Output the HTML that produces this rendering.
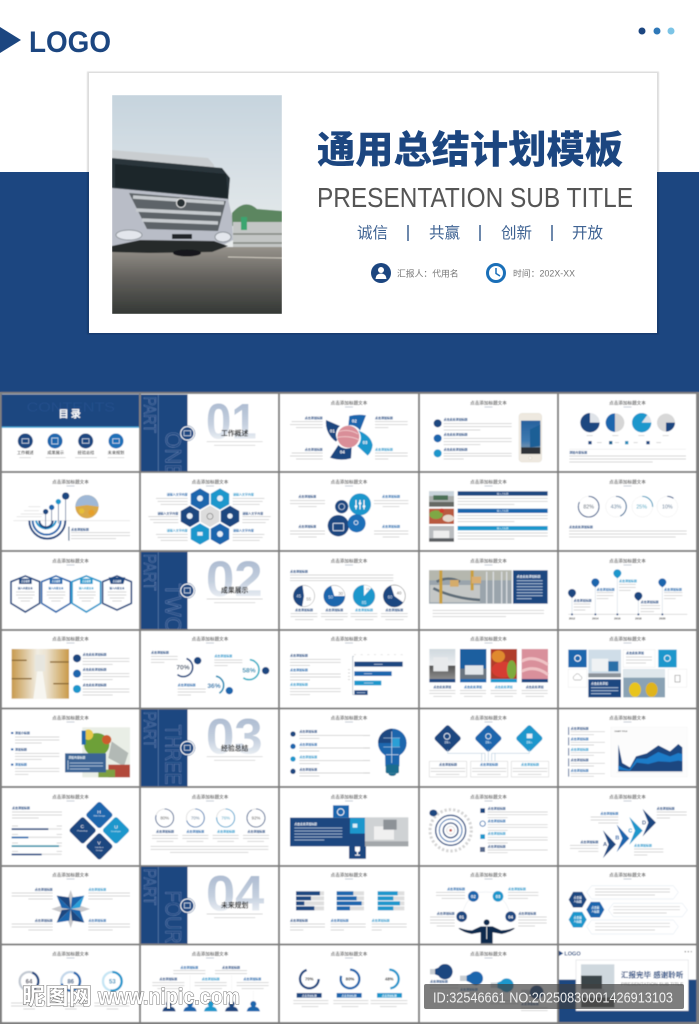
<!DOCTYPE html>
<html lang="zh"><head><meta charset="utf-8"><title>通用总结计划模板</title>
<style>
html,body{margin:0;padding:0;background:#808080}
svg{display:block}
text{font-family:"Liberation Sans","Noto Sans CJK SC",sans-serif}
.t{font-size:4.6px;fill:#4d4d4d;text-anchor:middle;font-weight:500}
.lb{font-size:9px;font-weight:700;fill:#1c4680}
.lc{font-size:9px;font-weight:700;fill:#1a66ad}
.ly{font-size:9px;font-weight:700;fill:#1f97cc}
.e{text-anchor:end}.m{text-anchor:middle}
.l{fill:none;stroke:#c9c9c9;stroke-width:2.2}
.w{fill:none;stroke:#b9cbe0;stroke-width:2.4}
.wt{font-size:9px;font-weight:700;fill:#fff;text-anchor:middle}
.o{fill:none;stroke:#7f9bc6;stroke-width:1;font-weight:400}
.n{font-weight:700;fill:url(#gh);font-size:150px}
.st{font-size:20.5px;font-weight:700;fill:#2e2e2e;text-anchor:middle}
.pc{font-weight:700;text-anchor:middle}
</style></head><body>
<svg width="699" height="1024" viewBox="0 0 699 1024" xmlns="http://www.w3.org/2000/svg">
<defs>
<linearGradient id="gh" x1="0" y1="0" x2="0" y2="1"><stop offset="0" stop-color="#a3b3cb"/><stop offset=".55" stop-color="#c5d0df"/><stop offset="1" stop-color="#ffffff"/></linearGradient>
<linearGradient id="sky" x1="0" y1="0" x2="0" y2="1"><stop offset="0" stop-color="#c6d4de"/><stop offset="1" stop-color="#e9ecec"/></linearGradient>
<linearGradient id="road" x1="0" y1="0" x2="0" y2="1"><stop offset="0" stop-color="#96928b"/><stop offset=".45" stop-color="#64625e"/><stop offset="1" stop-color="#343835"/></linearGradient>
<linearGradient id="wh" x1="0" y1="0" x2="1" y2="0"><stop offset="0" stop-color="#c79a4e"/><stop offset=".45" stop-color="#f1ede3"/><stop offset=".6" stop-color="#ece4d2"/><stop offset="1" stop-color="#c99a48"/></linearGradient>
<linearGradient id="gt" x1="0" y1="0" x2="0" y2="1"><stop offset="0" stop-color="#cfd8de"/><stop offset=".55" stop-color="#eceef0"/><stop offset=".56" stop-color="#555"/><stop offset="1" stop-color="#8d8d8d"/></linearGradient>
<linearGradient id="bs" x1="0" y1="0" x2="0" y2="1"><stop offset="0" stop-color="#27619e"/><stop offset=".6" stop-color="#3f7ab0"/><stop offset="1" stop-color="#9aa4ae"/></linearGradient>
<filter id="b" x="0" y="0" width="100%" height="100%"><feGaussianBlur stdDeviation=".4"/></filter>
<filter id="b2" x="-5%" y="-5%" width="110%" height="110%"><feGaussianBlur stdDeviation=".5"/></filter>
<polygon id="hx" points="0,-32 27.7,-16 27.7,16 0,32 -27.7,16 -27.7,-16"/>
<polygon id="hf" points="-27,0 -13.5,-23.5 13.5,-23.5 27,0 13.5,23.5 -13.5,23.5"/>
<rect id="dm" x="-30" y="-30" width="60" height="60" rx="8" transform="rotate(45)"/>
<clipPath id="ph"><rect x="112" y="95" width="170" height="219"/></clipPath>
</defs>

<!-- HERO -->
<rect width="699" height="392" fill="#fff"/>
<rect y="172" width="699" height="220" fill="#1c4680"/>
<polygon points="0,27 21,40 0,53" fill="#1c4680"/>
<text x="29" y="52" font-size="30" font-weight="700" fill="#1c4680" textLength="82" lengthAdjust="spacingAndGlyphs">LOGO</text>
<circle cx="642" cy="31" r="3.5" fill="#1c4680"/><circle cx="657" cy="31" r="3.5" fill="#2f78b8"/><circle cx="671" cy="31" r="3.5" fill="#7cc4e6"/>
<rect x="87" y="71.5" width="572" height="263" fill="#000" opacity=".13" filter="url(#b2)"/>
<rect x="89" y="73" width="568" height="260" fill="#fff"/>
<!-- photo -->
<g filter="url(#b2)" clip-path="url(#ph)">
<rect x="112" y="95" width="170" height="154" fill="url(#sky)"/>
<path d="M232 213Q245 198 257 209L282 211V226H232Z" fill="#5c8660"/>
<rect x="233" y="222" width="49" height="26" fill="#c3c6c5"/>
<rect x="241" y="217" width="6" height="13" fill="#3aa56f"/>
<path d="M233 234H282M233 243H282" stroke="#82867f" stroke-width="1.500"/>
<rect x="112" y="247" width="170" height="67" fill="url(#road)"/>
<path d="M228 257L282 258" stroke="#cfcac0" stroke-width="1"/>
<polygon points="112,150 208,158 214,165 214,168 112,160" fill="#c9cdd0"/>
<polygon points="112,158 222,168 230,178 228,202 112,190" fill="#2b353b"/>
<polygon points="115,164 226,174 228,198 115,187" fill="#1d262b"/>
<polygon points="112,188 228,199 232,216 233,240 214,250 112,250" fill="#b9bdc7"/>
<polygon points="129,193 226,201 218,231 147,229" fill="#5d6367"/>
<path d="M133 197L224 203M136 210L221 214M142 220L218 223" stroke="#c6cace" stroke-width="3.600"/>
<circle cx="181" cy="203" r="4.500" fill="#2b3135" stroke="#e8e8e8" stroke-width="1"/>
<ellipse cx="129" cy="235" rx="13" ry="5" fill="#e3e6ec" stroke="#8f959b"/>
<ellipse cx="223" cy="237" rx="8" ry="5" fill="#e3e6ec" stroke="#8f959b"/>
<rect x="172" y="234" width="20" height="5" fill="#22262a"/>
<polygon points="112,246 140,240 214,241 228,246 212,252 150,253 112,252" fill="#26292b"/>
<ellipse cx="187" cy="253" rx="14" ry="3.500" fill="#17191b"/>
</g>
<text x="317" y="163" font-size="38.2" font-weight="900" fill="#1c4680" textLength="306">通用总结计划模板</text>
<text x="317" y="207" font-size="28" fill="#555" textLength="316" lengthAdjust="spacingAndGlyphs">PRESENTATION SUB TITLE</text>
<g font-size="15.500" fill="#3f6393"><text x="357" y="238">诚信</text><text x="429" y="238">共赢</text><text x="501" y="238">创新</text><text x="572" y="238">开放</text></g>
<path d="M408 225V241M480 225V241M552 225V241" stroke="#2f5688" stroke-width="1.400"/>
<circle cx="381" cy="273" r="10" fill="#1c4680"/><circle cx="381" cy="270" r="3" fill="#fff"/><path d="M375.500 279Q376 273.500 381 273.500T386.500 279Z" fill="#fff"/>
<circle cx="496" cy="273" r="8.500" fill="#fff" stroke="#1a6fb8" stroke-width="3"/><path d="M496 268V273.500L500 276" stroke="#1a6fb8" stroke-width="1.500" fill="none"/>
<text x="397" y="276.500" font-size="8.800" fill="#777">汇报人：代用名</text>
<text x="513" y="276.500" font-size="8.800" fill="#777" textLength="62">时间：202X-XX</text>

<!-- GRID -->
<g filter="url(#b)">
<rect y="392" width="699" height="632" fill="#808080"/>
<rect y="390" width="699" height="2" fill="#1c4680"/>
<g fill="#fff">
<rect x="2" y="394" width="137" height="77"/><rect x="141" y="394" width="137" height="77"/><rect x="280" y="394" width="138" height="77"/><rect x="420" y="394" width="137" height="77"/><rect x="559" y="394" width="137" height="77"/>
<rect x="2" y="473" width="137" height="77"/><rect x="141" y="473" width="137" height="77"/><rect x="280" y="473" width="138" height="77"/><rect x="420" y="473" width="137" height="77"/><rect x="559" y="473" width="137" height="77"/>
<rect x="2" y="552" width="137" height="77"/><rect x="141" y="552" width="137" height="77"/><rect x="280" y="552" width="138" height="77"/><rect x="420" y="552" width="137" height="77"/><rect x="559" y="552" width="137" height="77"/>
<rect x="2" y="631" width="137" height="76.500"/><rect x="141" y="631" width="137" height="76.500"/><rect x="280" y="631" width="138" height="76.500"/><rect x="420" y="631" width="137" height="76.500"/><rect x="559" y="631" width="137" height="76.500"/>
<rect x="2" y="709.500" width="137" height="76.500"/><rect x="141" y="709.500" width="137" height="76.500"/><rect x="280" y="709.500" width="138" height="76.500"/><rect x="420" y="709.500" width="137" height="76.500"/><rect x="559" y="709.500" width="137" height="76.500"/>
<rect x="2" y="788" width="137" height="77"/><rect x="141" y="788" width="137" height="77"/><rect x="280" y="788" width="138" height="77"/><rect x="420" y="788" width="137" height="77"/><rect x="559" y="788" width="137" height="77"/>
<rect x="2" y="867" width="137" height="76.500"/><rect x="141" y="867" width="137" height="76.500"/><rect x="280" y="867" width="138" height="76.500"/><rect x="420" y="867" width="137" height="76.500"/><rect x="559" y="867" width="137" height="76.500"/>
<rect x="2" y="945.500" width="137" height="76.500"/><rect x="141" y="945.500" width="137" height="76.500"/><rect x="280" y="945.500" width="138" height="76.500"/><rect x="420" y="945.500" width="137" height="76.500"/><rect x="559" y="945.500" width="137" height="76.500"/>
</g>
<!-- titles -->
<g class="tt">
<text class="t" x="349" y="404.500">点击添加标题文本</text><text class="t" x="488.500" y="404.500">点击添加标题文本</text><text class="t" x="627.500" y="404.500">点击添加标题文本</text>
<text class="t" x="70.500" y="483.500">点击添加标题文本</text><text class="t" x="210" y="483.500">点击添加标题文本</text><text class="t" x="349" y="483.500">点击添加标题文本</text><text class="t" x="488.500" y="483.500">点击添加标题文本</text><text class="t" x="627.500" y="483.500">点击添加标题文本</text>
<text class="t" x="70.500" y="562.500">点击添加标题文本</text><text class="t" x="349" y="562.500">点击添加标题文本</text><text class="t" x="488.500" y="562.500">点击添加标题文本</text><text class="t" x="627.500" y="562.500">点击添加标题文本</text>
<text class="t" x="70.500" y="640.500">点击添加标题文本</text><text class="t" x="210" y="640.500">点击添加标题文本</text><text class="t" x="349" y="640.500">点击添加标题文本</text><text class="t" x="488.500" y="640.500">点击添加标题文本</text><text class="t" x="627.500" y="640.500">点击添加标题文本</text>
<text class="t" x="70.500" y="719.500">点击添加标题文本</text><text class="t" x="349" y="719.500">点击添加标题文本</text><text class="t" x="488.500" y="719.500">点击添加标题文本</text><text class="t" x="627.500" y="719.500">点击添加标题文本</text>
<text class="t" x="70.500" y="798.500">点击添加标题文本</text><text class="t" x="210" y="798.500">点击添加标题文本</text><text class="t" x="349" y="798.500">点击添加标题文本</text><text class="t" x="488.500" y="798.500">点击添加标题文本</text><text class="t" x="627.500" y="798.500">点击添加标题文本</text>
<text class="t" x="70.500" y="876.500">点击添加标题文本</text><text class="t" x="349" y="876.500">点击添加标题文本</text><text class="t" x="488.500" y="876.500">点击添加标题文本</text><text class="t" x="627.500" y="876.500">点击添加标题文本</text>
<text class="t" x="70.500" y="955.500">点击添加标题文本</text><text class="t" x="210" y="955.500">点击添加标题文本</text><text class="t" x="349" y="955.500">点击添加标题文本</text><text class="t" x="488.500" y="955.500">点击添加标题文本</text>
</g>
<path d="M345 407h8M484.500 407h8M623.500 407h8M66.500 486h8M206 486h8M345 486h8M484.500 486h8M623.500 486h8M66.500 565h8M345 565h8M484.500 565h8M623.500 565h8M66.500 643h8M206 643h8M345 643h8M484.500 643h8M623.500 643h8M66.500 722h8M345 722h8M484.500 722h8M623.500 722h8M66.500 801h8M206 801h8M345 801h8M484.500 801h8M623.500 801h8M66.500 879h8M345 879h8M484.500 879h8M623.500 879h8M66.500 958h8M206 958h8M345 958h8M484.500 958h8" stroke="#8b97ad" stroke-width=".6"/>

<!-- UPPER LEFT: rows 1-3, columns 1-3 left -->
<g transform="translate(0,390) scale(.33333)">
<!-- contents -->
<rect x="5" y="13" width="412" height="97" fill="#1c4680"/><rect x="5" y="110" width="412" height="3.500" fill="#2a9fd6"/>
<svg x="5" y="13" width="412" height="97"><text x="75" y="52" font-size="40" fill="#234f8b" textLength="265" lengthAdjust="spacingAndGlyphs">CONTENTS</text></svg>
<text x="212" y="82" font-size="31" font-weight="700" fill="#fff" text-anchor="middle" letter-spacing="6">目录</text>
<circle cx="76" cy="153" r="22.500" fill="#1c4680"/><circle cx="165" cy="153" r="22.500" fill="#1a66ad"/><circle cx="257" cy="153" r="22.500" fill="#1c4680"/><circle cx="348" cy="153" r="22.500" fill="#1a6fb8"/>
<path d="M66 146h20v14h-20zM155 144h19v18h-19zM247 146h20v14h-20zM338 146h20v14h-20z" fill="none" stroke="#dbe6f2" stroke-width="2"/>
<g font-size="12.500" fill="#444" text-anchor="middle" font-weight="500"><text x="76" y="192">工作概述</text><text x="167" y="192">成果展示</text><text x="258" y="192">经验总结</text><text x="348" y="192">未来规划</text></g>
<path class="l" d="M58 203h35M137 203h60M225 203h66M323 203h50" style="stroke-width:1.800"/>

<!-- part one -->
<svg x="423" y="13" width="140" height="231"><rect width="140" height="231" fill="#1c4680"/><path d="M52 0V231" stroke="#6d8dbb" stroke-width="1.500"/><text class="o" transform="translate(9,6) rotate(90)" font-size="53" textLength="110" lengthAdjust="spacingAndGlyphs">PART</text><text class="o" transform="translate(74,112) rotate(90)" font-size="66" textLength="140" lengthAdjust="spacingAndGlyphs">ONE</text></svg>
<circle cx="562" cy="130" r="20" fill="#1c4680" stroke="#fff" stroke-width="3"/><circle cx="562" cy="130" r="23" fill="none" stroke="#1c4680" stroke-width="1.500"/><path d="M552 122h20v15h-20z" fill="none" stroke="#dbe6f2" stroke-width="2"/>
<text class="n" x="618" y="145" textLength="152" lengthAdjust="spacingAndGlyphs">01</text>
<text class="st" x="704" y="137">工作概述</text>
<path class="l" d="M620 155h168M642 166h124" style="stroke-width:2"/>

<!-- r1c3 left text -->
<text class="lb e" x="968" y="87">点击添加标题</text>
<path class="l" d="M875 95h93M870 104h98M888 113h80"/>
<text class="lb e" x="968" y="181">点击添加标题</text>
<path class="l" d="M875 189h93M870 198h98M888 207h80"/>

<!-- r2c1 -->
<path d="M40 392H390" stroke="#ddd" stroke-width="2"/>
<path d="M50 380h75M62 372l70 0M72 362l45 0M85 350h36" stroke="#ccc" stroke-width="1.400" fill="none"/>
<g fill="none" stroke-width="6"><path d="M88 392A54 54 0 0 0 196 392" stroke="#1c4680"/><path d="M98 392A42 42 0 0 0 182 392" stroke="#1a66ad"/><path d="M108 392A31 31 0 0 0 168 392" stroke="#1f97cc"/><path d="M118 392A20 20 0 0 0 158 392" stroke="#1c4680"/></g>
<path d="M137 365V418M155 352V410M175 335V400M197 318V392" stroke="#1c4680" stroke-width="2"/>
<circle cx="137" cy="365" r="8" fill="#1c4680"/><circle cx="155" cy="352" r="8" fill="#1a66ad"/><circle cx="175" cy="335" r="8" fill="#1f97cc"/><circle cx="197" cy="318" r="11" fill="#1c4680"/>
<circle cx="261" cy="350" r="35" fill="#d9a94a"/><path d="M226 350A35 35 0 0 1 296 350L261 345Z" fill="#9fb8d6"/><circle cx="245" cy="363" r="8" fill="#e7bf37"/><circle cx="274" cy="368" r="9" fill="#e6a02b"/>
<rect x="205" y="410" width="3.500" height="42" fill="#55708f"/>
<text class="lb" x="213" y="421">点击添加标题</text>
<path class="l" d="M213 428h177M213 437h177M213 446h135"/>

<!-- r2c2 hex -->
<g><use href="#hx" x="600" y="327" fill="#1a66ad"/><use href="#hx" x="660" y="327" fill="#1f97cc"/><use href="#hx" x="570" y="379" fill="#1c4680"/><use href="#hx" x="630" y="379" fill="#dcdcdc"/><use href="#hx" x="690" y="379" fill="#1c4680"/><use href="#hx" x="600" y="432" fill="#1f97cc"/><use href="#hx" x="660" y="432" fill="#1a66ad"/></g>
<g fill="#e8f0f8"><circle cx="600" cy="325" r="9"/><circle cx="660" cy="325" r="9"/><circle cx="569" cy="378" r="9"/><circle cx="690" cy="378" r="8"/><rect x="592" y="426" width="16" height="11"/><circle cx="660" cy="432" r="9"/></g>
<circle cx="630" cy="379" r="9" fill="none" stroke="#777" stroke-width="2"/>
<text class="lc e" x="563" y="317">请输入文字内容</text><text class="ly" x="699" y="317">请输入文字内容</text>
<text class="lb e" x="535" y="373">请输入文字内容</text><text class="lb" x="727" y="373">请输入文字内容</text>
<text class="ly e" x="563" y="425">请输入文字内容</text><text class="lc" x="699" y="425">请输入文字内容</text>
<path class="l" d="M468 325h95M473 334h90M482 343h81M698 325h95M698 334h90M698 343h81M445 380h90M450 389h85M460 398h75M727 380h85M727 389h80M727 398h70M468 433h95M473 442h90M482 451h81M698 433h95M698 442h90M698 451h81"/>

<!-- r2c3 left -->
<text class="lb m" x="922" y="322">点击添加标题</text>
<path class="l" d="M870 332h105M870 341h105M895 350h55M870 423h105M870 432h105M895 441h55"/>
<text class="lb m" x="922" y="413">点击添加标题</text>

<!-- r3c1 shields -->
<g fill="#fff" stroke-width="5" stroke-linejoin="round"><polygon points="33,575 76,558 119,575 119,640 76,666 33,640" stroke="#1c4680"/><polygon points="125,575 168,558 211,575 211,640 168,666 125,640" stroke="#1a66ad"/><polygon points="216,575 259,558 302,575 302,640 259,666 216,640" stroke="#1f97cc"/><polygon points="308,575 351,558 394,575 394,640 351,660 308,640" stroke="#1c4680"/></g>
<g><rect x="57" y="566" width="38" height="16" fill="#1c4680"/><rect x="149" y="566" width="38" height="16" fill="#1a66ad"/><rect x="240" y="566" width="38" height="16" fill="#1f97cc"/><polygon points="326,562 376,562 370,582 332,582" fill="#1c4680"/></g>
<g font-size="6.500" fill="#fff" text-anchor="middle" font-weight="700"><text x="76" y="576">点击编辑</text><text x="168" y="576">点击编辑</text><text x="259" y="576">点击编辑</text><text x="351" y="576">点击编辑</text></g>
<g font-size="7.500" text-anchor="middle" font-weight="700"><text x="76" y="597" fill="#1c4680">输入内容文本</text><text x="168" y="597" fill="#1a66ad">输入内容文本</text><text x="259" y="597" fill="#1f97cc">输入内容文本</text><text x="351" y="597" fill="#1c4680">输入内容文本</text></g>
<path class="l" d="M48 606h56M48 615h56M54 624h44M62 633h28M140 606h56M140 615h56M146 624h44M154 633h28M231 606h56M231 615h56M237 624h44M245 633h28M323 606h56M323 615h56M329 624h44M337 633h28" style="stroke-width:2"/>

<!-- part two -->
<svg x="423" y="486" width="140" height="231"><rect width="140" height="231" fill="#1c4680"/><path d="M52 0V231" stroke="#6d8dbb" stroke-width="1.500"/><text class="o" transform="translate(9,6) rotate(90)" font-size="53" textLength="110" lengthAdjust="spacingAndGlyphs">PART</text><text class="o" transform="translate(74,94) rotate(90)" font-size="66" textLength="150" lengthAdjust="spacingAndGlyphs">TWO</text></svg>
<circle cx="562" cy="602" r="20" fill="#1c4680" stroke="#fff" stroke-width="3"/><circle cx="562" cy="602" r="23" fill="none" stroke="#1c4680" stroke-width="1.500"/><path d="M553 594h18v15h-18z" fill="none" stroke="#dbe6f2" stroke-width="2"/>
<text class="n" x="618" y="618" textLength="170" lengthAdjust="spacingAndGlyphs">02</text>
<text class="st" x="704" y="608">成果展示</text>
<path class="l" d="M620 627h168M642 638h124" style="stroke-width:2"/>

<!-- r3c3 left -->
<text class="lb" x="870" y="547">点击添加标题</text>
<path class="l" d="M870 555h310M870 564h310M870 572h310"/>
<circle cx="912" cy="618" r="32" fill="#fff" stroke="#999" stroke-width="1.500"/>
<circle cx="912" cy="618" r="16" fill="none" stroke="#1c4680" stroke-width="32" pathLength="100" stroke-dasharray="45 100" transform="rotate(100 912 618)"/>
<text x="896" y="622" font-size="13" fill="#dfe8f4" text-anchor="middle">45</text><text x="926" y="632" font-size="13" fill="#888" text-anchor="middle">55</text>
<circle cx="1003" cy="618" r="32" fill="#fff" stroke="#999" stroke-width="1.500"/>
<circle cx="1003" cy="618" r="16" fill="none" stroke="#1a66ad" stroke-width="32" pathLength="100" stroke-dasharray="70 100"/>
<text x="1022" y="615" font-size="13" fill="#777" text-anchor="middle">30</text><text x="992" y="626" font-size="13" fill="#dfe8f4" text-anchor="middle">50</text>
<text class="lb m" x="912" y="663">点击添加标题</text><text class="lb m" x="1003" y="663">点击添加标题</text>
<path class="l" d="M872 671h80M872 680h80M885 689h55M963 671h80M963 680h80M975 689h55"/>
</g>

<!-- UPPER RIGHT -->
<g transform="translate(350,390) scale(.33333)">
<!-- r1c3 fan -->
<path d="M-72 90L-30 108A34 34 0 0 0 -38 150L-42 155A70 70 0 0 1 -72 90Z" fill="#1c4680"/>
<path d="M-60 203L-35 165A34 34 0 0 0 5 172L3 205Q-30 214 -60 203Z" fill="#1c4680"/>
<path d="M-5 106L-2 78Q25 72 48 76L30 122A34 34 0 0 0 -5 106Z" fill="#1a66ad"/>
<path d="M25 122Q62 135 68 165Q66 185 53 197L22 168A34 34 0 0 0 25 122Z" fill="#1f97cc"/>
<circle cx="-5" cy="140" r="33" fill="#d98e98"/>
<path d="M-34 125Q-5 115 24 132M-38 142Q0 135 28 150" stroke="#f0c6c8" stroke-width="3" fill="none"/>
<g font-size="13" font-weight="700" fill="#fff" text-anchor="middle"><text x="-53" y="127">01</text><text x="13" y="98">02</text><text x="45" y="162">03</text><text x="-23" y="191">04</text></g>
<text class="lb" x="75" y="87">点击添加标题</text><path class="l" d="M75 95h98M75 104h98M75 113h40"/>
<text class="ly" x="75" y="181">点击添加标题</text><path class="l" d="M75 189h98M75 198h98M75 207h40"/>

<!-- r1c4 -->
<circle cx="263" cy="100" r="12" fill="#1c4680"/><circle cx="263" cy="145" r="12" fill="#1a66ad"/><circle cx="263" cy="190" r="12" fill="#1f97cc"/>
<text class="lb" x="281" y="92">点击此处添加标题</text><text class="lb" x="281" y="136">点击此处添加标题</text><text class="lb" x="281" y="181">点击此处添加标题</text>
<path class="l" d="M281 101h204M281 110h204M281 120h110M281 145h204M281 155h204M281 164h110M281 190h204M281 198h204M281 207h60"/>
<rect x="507" y="70" width="68" height="146" rx="9" fill="#eee9e0" stroke="#d9d2c4"/>
<rect x="513" y="92" width="58" height="100" fill="url(#bs)"/><rect x="513" y="172" width="58" height="20" fill="#2f3338"/>
<polygon points="540,118 571,104 571,168 540,172" fill="#1f5f96"/>
<circle cx="541" cy="204" r="5" fill="#f7f4ee" stroke="#c8c0b0"/>

<!-- r1c5 pies -->
<g>
<circle cx="720" cy="98" r="29" fill="#dfe3e8"/><circle cx="720" cy="98" r="14.500" fill="none" stroke="#1c4680" stroke-width="29" pathLength="100" stroke-dasharray="75 100"/>
<circle cx="795" cy="98" r="28" fill="#d6d6d6"/><circle cx="795" cy="98" r="14" fill="none" stroke="#1a66ad" stroke-width="28" pathLength="100" stroke-dasharray="50 100" transform="rotate(90 795 98)"/>
<circle cx="875" cy="98" r="29" fill="#dfe3e8"/><circle cx="875" cy="98" r="14.500" fill="none" stroke="#1f97cc" stroke-width="29" pathLength="100" stroke-dasharray="85 100"/>
<circle cx="948" cy="98" r="27" fill="#d8d8d8"/><circle cx="948" cy="98" r="13.500" fill="none" stroke="#1c4680" stroke-width="27" pathLength="100" stroke-dasharray="25 100"/>
</g>
<path class="l" d="M710 137h18M787 137h18M865 137h18M938 137h18"/>
<path d="M715 153h10v10h-10z" fill="#1c4680"/><path d="M777 153h10v10h-10z" fill="#1c6492"/><path d="M825 153h10v10h-10z" fill="#2a8fbc"/><path d="M889 153h10v10h-10z" fill="#1c4680"/>
<path class="l" d="M741 158h14M795 158h12M851 158h12M919 158h14"/>
<path d="M658 178H1008" stroke="#e5e5e5" stroke-width="1.500"/>
<text class="lb" x="658" y="190">添加内容标题</text>
<path class="l" d="M658 198h350M658 207h350M658 216h250"/>

<!-- r2c3 right -->
<circle cx="-25" cy="350" r="20" fill="#1c4680"/><circle cx="-25" cy="350" r="9" fill="none" stroke="#cfdcec" stroke-width="2"/>
<circle cx="30" cy="343" r="33" fill="#1f97cc"/><circle cx="-35" cy="407" r="32" fill="#1c4680"/><rect x="-51" y="400" width="32" height="22" rx="2" fill="none" stroke="#e6eef7" stroke-width="2.500"/>
<circle cx="20" cy="400" r="27" fill="#1a6fb8"/>
<path d="M18 330V358M30 330V358M42 330V358" stroke="#fff" stroke-width="3"/><circle cx="18" cy="349" r="4" fill="#fff"/><circle cx="30" cy="340" r="4" fill="#fff"/><circle cx="42" cy="349" r="4" fill="#fff"/>
<circle cx="18" cy="398" r="6" fill="none" stroke="#dceaf7" stroke-width="2.500"/>
<text class="lc m" x="123" y="322">点击添加标题</text><text class="lc m" x="123" y="413">点击添加标题</text>
<path class="l" d="M72 332h103M72 341h103M98 350h50M72 423h103M72 432h103M98 441h50"/>

<!-- r2c4 -->
<rect x="237" y="304" width="75" height="46" fill="#a9adac"/><rect x="237" y="304" width="75" height="14" fill="#c9d4dc"/><rect x="237" y="336" width="75" height="14" fill="#656864"/><rect x="250" y="316" width="44" height="14" fill="#4b7056"/>
<rect x="237" y="356" width="75" height="46" fill="#b95a3f"/><ellipse cx="258" cy="374" rx="20" ry="13" fill="#7ea845"/><ellipse cx="295" cy="385" rx="17" ry="11" fill="#e4d8cc"/><circle cx="275" cy="362" r="7" fill="#cf3d2d"/>
<rect x="237" y="408" width="75" height="47" fill="#b9bcbf"/><rect x="250" y="422" width="48" height="22" fill="#eeeeee"/><rect x="237" y="445" width="75" height="10" fill="#5c5f62"/>
<rect x="323" y="304" width="270" height="13" fill="#1c4680"/><rect x="323" y="356" width="270" height="13" fill="#1a66ad"/><rect x="323" y="408" width="270" height="13" fill="#1f97cc"/>
<g font-size="7" fill="#fff" text-anchor="middle"><text x="458" y="313">输入大标题</text><text x="458" y="365">输入大标题</text><text x="458" y="417">输入大标题</text></g>
<path class="l" d="M323 325h270M323 334h270M323 343h170M323 377h270M323 386h270M323 395h170M323 429h270M323 438h270M323 447h170"/>

<!-- r2c5 rings -->
<g fill="none"><circle cx="716" cy="350" r="31" stroke="#ececec" stroke-width="1.500"/><circle cx="798" cy="350" r="31" stroke="#ececec" stroke-width="1.500"/><circle cx="877" cy="350" r="31" stroke="#ececec" stroke-width="1.500"/><circle cx="952" cy="350" r="31" stroke="#ececec" stroke-width="1.500"/>
<circle cx="716" cy="350" r="31" stroke="#1c4680" stroke-width="3" pathLength="100" stroke-dasharray="82 100" transform="rotate(-90 716 350)"/>
<circle cx="798" cy="350" r="31" stroke="#1a5a8e" stroke-width="3" pathLength="100" stroke-dasharray="43 100" transform="rotate(-90 798 350)"/>
<circle cx="877" cy="350" r="31" stroke="#1f8fb8" stroke-width="3" pathLength="100" stroke-dasharray="25 100" transform="rotate(-90 877 350)"/>
<circle cx="952" cy="350" r="31" stroke="#1c4680" stroke-width="3" pathLength="100" stroke-dasharray="10 100" transform="rotate(-90 952 350)"/></g>
<g font-size="16" text-anchor="middle"><text x="716" y="356" fill="#4d5a6a">82%</text><text x="798" y="356" fill="#4e7596">43%</text><text x="875" y="356" fill="#3aa0c0">25%</text><text x="952" y="356" fill="#5c7894">10%</text></g>
<text class="lb" x="657" y="414">点击此处添加标题</text>
<path class="l" d="M657 423h353M657 432h353M657 441h320"/>

<!-- r3c3 right -->
<circle cx="42" cy="618" r="33" fill="#fff" stroke="#999" stroke-width="1"/><circle cx="42" cy="618" r="16.500" fill="none" stroke="#1f97cc" stroke-width="33" pathLength="100" stroke-dasharray="88 100" transform="rotate(-48 42 618)"/>
<text x="42" y="642" font-size="13" fill="#dff0f8" text-anchor="middle">85</text><text x="53" y="600" font-size="9" fill="#888" text-anchor="middle">15</text>
<circle cx="133" cy="618" r="33" fill="#fff" stroke="#555" stroke-width="1.500"/><circle cx="133" cy="618" r="16.500" fill="none" stroke="#1c4680" stroke-width="33" pathLength="100" stroke-dasharray="60 100" transform="rotate(36 133 618)"/>
<text x="147" y="614" font-size="13" fill="#666" text-anchor="middle">40</text><text x="120" y="626" font-size="13" fill="#dfe8f4" text-anchor="middle">60</text>
<text class="ly m" x="42" y="663">点击添加标题</text><text class="lb m" x="133" y="663">点击添加标题</text>
<path class="l" d="M2 671h80M2 680h80M15 689h55M93 671h80M93 680h80M106 689h55M-40 555h0"/>

<!-- r3c4 -->
<rect x="237" y="541" width="248" height="100" fill="#9aa4ac"/><rect x="237" y="541" width="248" height="30" fill="#b5b7ae"/>
<rect x="240" y="585" width="150" height="52" fill="#c4c7c6"/><path d="M260 575q35 -18 70 0M250 595q60 30 140 35" stroke="#5f6d78" stroke-width="8" fill="none"/>
<rect x="268" y="541" width="9" height="100" fill="#c99f3c"/><rect x="362" y="541" width="9" height="60" fill="#c99f3c"/><rect x="300" y="570" width="26" height="20" fill="#d5ac6b"/><rect x="365" y="560" width="28" height="20" fill="#d9ae72"/>
<path d="M410 545V641M430 545V641M455 545V641M470 545V641" stroke="#dadde0" stroke-width="4"/>
<rect x="489" y="541" width="104" height="100" fill="#1c4680"/>
<text x="500" y="562" font-size="9" font-weight="700" fill="#fff">点击此处添加标题</text>
<path class="w" d="M500 572h78M500 581h78M500 590h78M500 599h78M500 608h78M500 617h78M500 626h45"/>
<path class="l" d="M248 661h334M248 670h334M248 680h220"/>

<!-- r3c5 -->
<path d="M655 673H1012" stroke="#c9c9c9" stroke-width="2"/>
<path d="M666 620V673M736 588V673M802 561V673M865 629V673M937 588V673" stroke="#c8d3df" stroke-width="1.500"/>
<path d="M654 609a12 12 0 1 1 24 0q0 7 -12 15q-12 -8 -12 -15Z" fill="#1c4680"/>
<path d="M724 577a12 12 0 1 1 24 0q0 7 -12 15q-12 -8 -12 -15Z" fill="#1a66ad"/>
<path d="M790 550a12 12 0 1 1 24 0q0 7 -12 15q-12 -8 -12 -15Z" fill="#1f97cc"/>
<path d="M853 618a12 12 0 1 1 24 0q0 7 -12 15q-12 -8 -12 -15Z" fill="#1c4680"/>
<path d="M925 577a12 12 0 1 1 24 0q0 7 -12 15q-12 -8 -12 -15Z" fill="#1a66ad"/>
<g fill="#1c4680"><circle cx="666" cy="673" r="3"/><circle cx="736" cy="673" r="3"/><circle cx="802" cy="673" r="3"/><circle cx="865" cy="673" r="3"/><circle cx="937" cy="673" r="3"/></g>
<g font-size="8.500" font-weight="700" fill="#333" text-anchor="middle"><text x="666" y="689">2012</text><text x="736" y="689">2014</text><text x="802" y="689">2016</text><text x="865" y="689">2018</text><text x="937" y="689">2020</text></g>
<text class="lb" x="671" y="635">点击添加标题</text><path class="l" d="M671 642h50M671 651h50M671 660h35"/>
<text class="lc" x="740" y="601">点击添加标题</text><path class="l" d="M740 608h50M740 617h50M740 626h35"/>
<text class="ly" x="807" y="576">点击添加标题</text><path class="l" d="M807 583h50M807 592h50M807 601h35"/>
<text class="lb" x="872" y="639">点击添加标题</text><path class="l" d="M872 647h58M872 656h58M872 665h40"/>
<text class="lc" x="942" y="601">点击添加标题</text><path class="l" d="M942 608h55M942 617h55M942 626h35"/>
</g>

<!-- MIDDLE LEFT: rows 4-6 -->
<g transform="translate(0,628) scale(.33333)">
<rect x="35" y="63" width="172" height="149" fill="url(#wh)"/>
<polygon points="100,212 140,212 125,110 115,110" fill="#f7f6f1"/><rect x="105" y="80" width="30" height="50" fill="#e7e6df"/>
<rect x="35" y="95" width="45" height="4" fill="#8c6a34"/><rect x="35" y="150" width="60" height="4" fill="#8c6a34"/><rect x="150" y="100" width="57" height="4" fill="#8c6a34"/><rect x="160" y="165" width="47" height="4" fill="#8c6a34"/>
<circle cx="231" cy="91" r="12" fill="#1c4680"/><circle cx="231" cy="137" r="12" fill="#1a66ad"/><circle cx="231" cy="183" r="12" fill="#1f97cc"/>
<text class="lb" x="248" y="82">点击此处添加标题</text><text class="lb" x="248" y="128">点击此处添加标题</text><text class="lb" x="248" y="174">点击此处添加标题</text>
<path class="l" d="M248 91h140M248 100h140M248 109h90M248 137h140M248 146h140M248 155h90M248 183h140M248 192h140M248 201h90"/>

<!-- r4c2 -->
<g fill="none" stroke-width="5">
<circle cx="550" cy="118" r="28" stroke="#1c4680" pathLength="100" stroke-dasharray="55 100" transform="rotate(-70 550 118)"/>
<circle cx="747" cy="125" r="30" stroke="#2ab0c6" pathLength="100" stroke-dasharray="58 100" transform="rotate(-85 747 125)"/>
<circle cx="643" cy="172" r="28" stroke="#1f8fb8" pathLength="100" stroke-dasharray="38 100" transform="rotate(-80 643 172)"/></g>
<g font-size="20" font-weight="700" text-anchor="middle"><text x="549" y="125" fill="#4a5a70">70%</text><text x="747" y="133" fill="#2f8fb4">58%</text><text x="642" y="180" fill="#2a7ab0">36%</text></g>
<circle cx="593" cy="98" r="11" fill="#1c4680"/><circle cx="797" cy="128" r="11" fill="#1c4680"/><circle cx="688" cy="188" r="11" fill="#1a66ad"/>
<text class="lb" x="453" y="76">点击添加标题</text><path class="l" d="M453 85h80M453 94h80M453 103h40"/>
<text class="ly" x="643" y="87">点击添加标题</text><path class="l" d="M643 96h84M643 104h84M643 113h40"/>
<text class="lc" x="533" y="174">点击添加标题</text><path class="l" d="M533 183h84M533 192h84M533 201h40"/>

<!-- r4c3 left -->
<text class="lb" x="870" y="85">点击添加标题</text><text class="lc" x="870" y="129">点击添加标题</text><text class="ly" x="870" y="173">点击添加标题</text>
<path class="l" d="M870 94h152M870 103h152M870 112h60M870 138h152M870 147h152M870 156h60M870 182h152M870 191h152M870 200h60"/>
<path class="l" d="M1044 125h6M1044 135h6M1044 145h6M1044 155h6"/>

<!-- r5c1 -->
<path d="M33 312h7v6h-7zM33 361h7v6h-7zM33 407h7v6h-7z" fill="#1a66ad"/>
<text class="lb" x="45" y="318">添加小标题</text><text class="lb" x="45" y="367">添加标题</text><text class="lc" x="45" y="413">添加标题</text>
<path class="l" d="M45 327h133M45 336h133M45 345h80M45 376h133M45 385h133M45 394h80M45 421h133M45 430h133M45 439h40"/>
<rect x="247" y="298" width="143" height="150" fill="#e9eee6"/>
<ellipse cx="290" cy="350" rx="38" ry="35" fill="#6da038"/><ellipse cx="320" cy="335" rx="14" ry="14" fill="#cb5b2e"/><ellipse cx="265" cy="320" rx="15" ry="16" fill="#e6c84a"/>
<polygon points="335,340 385,375 372,415 325,390" fill="#b2b9b5"/>
<rect x="325" y="410" width="65" height="38" fill="#b24a3a"/><rect x="295" y="425" width="50" height="23" fill="#7e9f42"/>
<rect x="245" y="308" width="12" height="42" fill="#1a66ad"/>
<rect x="195" y="376" width="123" height="57" fill="#3a6494"/>
<text x="205" y="391" font-size="8.500" font-weight="700" fill="#fff">添加内容标题</text>
<rect x="203" y="397" width="2" height="28" fill="#dbe6f2"/>
<path class="w" d="M209 405h100M209 414h100M209 423h60"/>

<!-- part three -->
<svg x="423" y="244" width="140" height="231"><rect width="140" height="231" fill="#1c4680"/><path d="M52 0V231" stroke="#6d8dbb" stroke-width="1.500"/><text class="o" transform="translate(9,6) rotate(90)" font-size="53" textLength="110" lengthAdjust="spacingAndGlyphs">PART</text><text class="o" transform="translate(74,46) rotate(90)" font-size="66" textLength="180" lengthAdjust="spacingAndGlyphs">THREE</text></svg>
<circle cx="562" cy="360" r="20" fill="#1c4680" stroke="#fff" stroke-width="3"/><circle cx="562" cy="360" r="23" fill="none" stroke="#1c4680" stroke-width="1.500"/><path d="M553 352h18v15h-18z" fill="none" stroke="#dbe6f2" stroke-width="2"/>
<text class="n" x="618" y="376" textLength="170" lengthAdjust="spacingAndGlyphs">03</text>
<text class="st" x="704" y="367">经验总结</text>
<path class="l" d="M620 386h168M642 397h124" style="stroke-width:2"/>

<!-- r5c3 left -->
<circle cx="879" cy="318" r="8" fill="#1c4680"/><circle cx="879" cy="355" r="8" fill="#1a66ad"/><circle cx="879" cy="393" r="8" fill="#1f97cc"/><circle cx="879" cy="430" r="8" fill="#1c4680"/>
<text class="lb" x="898" y="313">点击添加标题</text><text class="lc" x="898" y="352">点击添加标题</text><text class="ly" x="898" y="390">点击添加标题</text><text class="lb" x="898" y="427">点击添加标题</text>
<path class="l" d="M898 322h212M898 331h60M898 360h212M898 369h60M898 398h212M898 407h60M898 435h212M898 444h60"/>

<!-- r6c1 -->
<text class="lb" x="36" y="543">点击添加标题</text>
<path class="l" d="M36 552h150M36 561h150M36 570h80"/>
<path class="l" d="M36 594h18M170 594h16M36 619h18M170 619h16M36 645h18M170 645h16M36 670h18M170 670h16"/>
<rect x="35" y="601" width="150" height="4" fill="#e0e0e0"/><rect x="35" y="601" width="110" height="5" fill="#1c4680"/>
<rect x="35" y="626" width="150" height="4" fill="#e0e0e0"/><rect x="35" y="626" width="50" height="5" fill="#1a66ad"/>
<rect x="35" y="652" width="150" height="4" fill="#e0e0e0"/><rect x="35" y="652" width="142" height="5" fill="#2793ad"/>
<rect x="35" y="677" width="150" height="4" fill="#e0e0e0"/><rect x="35" y="677" width="90" height="5" fill="#1c4680"/>
<use href="#dm" x="298" y="561" fill="#1a66ad"/><use href="#dm" x="248" y="607" fill="#1c4680"/><use href="#dm" x="348" y="607" fill="#1f97cc"/><use href="#dm" x="298" y="655" fill="#1c4680"/>
<g fill="#fff" text-anchor="middle"><g font-size="15"><text x="297" y="556">H</text><text x="247" y="600">C</text><text x="348" y="602">U</text><text x="297" y="650">V</text></g><g font-size="6.500"><text x="298" y="566">Web Design</text><text x="247" y="610">Photoshop</text><text x="348" y="612">Developer</text><text x="298" y="660">Interface</text><text x="298" y="669">Design</text></g></g>

<!-- r6c2 -->
<g fill="none"><circle cx="494" cy="570" r="27" stroke="#ddd" stroke-width="2.500"/><circle cx="586" cy="570" r="27" stroke="#ddd" stroke-width="2.500"/><circle cx="677" cy="570" r="27" stroke="#ddd" stroke-width="2.500"/><circle cx="768" cy="570" r="27" stroke="#ddd" stroke-width="2.500"/>
<circle cx="494" cy="570" r="27" stroke="#1c4680" stroke-width="2.500" pathLength="100" stroke-dasharray="80 100" transform="rotate(-90 494 570)"/>
<circle cx="586" cy="570" r="27" stroke="#1a66ad" stroke-width="2.500" pathLength="100" stroke-dasharray="70 100" transform="rotate(-90 586 570)"/>
<circle cx="677" cy="570" r="27" stroke="#1f97cc" stroke-width="2.500" pathLength="100" stroke-dasharray="76 100" transform="rotate(-90 677 570)"/>
<circle cx="768" cy="570" r="27" stroke="#1c4680" stroke-width="2.500" pathLength="100" stroke-dasharray="92 100" transform="rotate(-90 768 570)"/></g>
<g font-size="13" text-anchor="middle"><text x="494" y="575" fill="#555">80%</text><text x="586" y="575" fill="#5d7a96">70%</text><text x="677" y="575" fill="#4ba3c4">76%</text><text x="768" y="575" fill="#555">92%</text></g>
<text class="lb m" x="495" y="614">点击添加标题</text><text class="lc m" x="586" y="614">点击添加标题</text><text class="ly m" x="678" y="614">点击添加标题</text><text class="lb m" x="769" y="614">点击添加标题</text>
<path class="l" d="M456 622h78M456 631h78M470 640h50M547 622h78M547 631h78M560 640h50M638 622h78M638 631h78M652 640h50M729 622h78M729 631h78M742 640h50M452 655h353M452 664h353M510 673h235"/>

<!-- r6c3 -->
<rect x="870" y="569" width="228" height="86" fill="#1c4680"/>
<rect x="999" y="532" width="48" height="37" fill="#1a66ad"/><circle cx="1022" cy="552" r="10" fill="none" stroke="#fff" stroke-width="2.500"/>
<rect x="1047" y="655" width="51" height="37" fill="#1c4680"/>
<text x="883" y="591" font-size="8.500" font-weight="700" fill="#fff">点击此处添加标题</text>
<path class="w" d="M883 600h144M883 609h144M883 618h144M883 627h144M883 636h90"/>
</g>

<!-- MIDDLE RIGHT -->
<g transform="translate(350,628) scale(.33333)">
<!-- r4c3 right -->
<path d="M8 85V200M8 85h4M8 200h4" stroke="#8696a8" stroke-width="1.500" fill="none"/>
<path class="l" d="M12 80h6M32 80h6M52 80h6M72 80h6M92 80h6M112 80h6M132 80h6M152 80h6" style="stroke-width:1.500"/>
<rect x="13" y="101" width="145" height="15" fill="#1c4680"/><rect x="13" y="130" width="112" height="14" fill="#1a66ad"/><rect x="13" y="158" width="81" height="14" fill="#1f97cc"/><rect x="13" y="187" width="40" height="14" fill="#1c4680"/>
<path d="M72 109h26M42 137h24M42 165h28M20 194h26" stroke="#bcd3ea" stroke-width="2"/>

<!-- r4c4 -->
<rect x="238" y="63" width="78" height="90" fill="url(#gt)"/><rect x="250" y="88" width="44" height="42" fill="#e8eaec"/>
<rect x="330" y="63" width="79" height="90" fill="#1e5f9f"/><rect x="330" y="122" width="79" height="31" fill="#6b7580"/><rect x="345" y="112" width="55" height="28" fill="#e3e7ea"/>
<rect x="422" y="63" width="79" height="90" fill="#b03c2a"/><ellipse cx="460" cy="125" rx="35" ry="24" fill="#d63c33"/><ellipse cx="445" cy="85" rx="20" ry="18" fill="#e08a2d"/><ellipse cx="485" cy="125" rx="14" ry="28" fill="#7eaa3c"/>
<rect x="515" y="63" width="79" height="90" fill="#d9909b"/><path d="M515 100Q550 80 594 110M515 130Q555 110 594 140" stroke="#efc3c5" stroke-width="9" fill="none"/>
<rect x="238" y="153" width="78" height="10" fill="#1c4680"/><rect x="330" y="153" width="79" height="10" fill="#1a66ad"/><rect x="422" y="153" width="79" height="10" fill="#1f97cc"/><rect x="515" y="153" width="79" height="10" fill="#1c4680"/>
<text class="lb m" x="277" y="180">点击此处添加</text><text class="lc m" x="369" y="180">点击此处添加</text><text class="ly m" x="461" y="180">点击此处添加</text><text class="lb m" x="554" y="180">点击此处添加</text>
<path class="l" d="M238 188h78M238 196h78M250 205h55M330 188h78M330 196h78M342 205h55M422 188h78M422 196h78M434 205h55M515 188h78M515 196h78M527 205h55"/>

<!-- r4c5 -->
<rect x="655" y="65" width="55" height="53" fill="#1a66ad"/><circle cx="683" cy="91" r="9" fill="none" stroke="#fff" stroke-width="3"/>
<rect x="715" y="65" width="98" height="83" fill="#cfdde8"/><rect x="725" y="92" width="50" height="38" fill="#eff2f4"/><rect x="775" y="100" width="30" height="30" fill="#2a6fa8"/><rect x="715" y="136" width="98" height="12" fill="#8b9299"/>
<rect x="820" y="65" width="95" height="53" fill="#fff" stroke="#e2e2e2"/><text class="lb" x="828" y="78">点击此处添加</text><path class="l" d="M828 87h78M828 96h78M828 105h60"/>
<rect x="925" y="65" width="55" height="53" fill="#1f97cc"/><circle cx="952" cy="91" r="9" fill="none" stroke="#e6f4fb" stroke-width="3"/>
<rect x="655" y="124" width="55" height="54" fill="#fff" stroke="#e2e2e2"/><path d="M673 156a8 8 0 0 1 2 -14a8 8 0 0 1 15 1a7 7 0 0 1 2 13z" fill="none" stroke="#888" stroke-width="1.500"/>
<rect x="715" y="154" width="98" height="54" fill="#1c4680"/><text x="723" y="170" font-size="8.500" font-weight="700" fill="#fff">点击此处添加</text><path class="w" d="M723 179h82M723 188h82M723 197h60"/>
<rect x="820" y="124" width="125" height="84" fill="#8aa2b4"/><rect x="820" y="124" width="125" height="25" fill="#dfe7ec"/><ellipse cx="855" cy="185" rx="18" ry="22" fill="#e8c41e"/><ellipse cx="905" cy="185" rx="18" ry="22" fill="#dfb41c"/>
<rect x="955" y="124" width="55" height="54" fill="#fff" stroke="#e2e2e2"/><rect x="975" y="142" width="15" height="20" fill="none" stroke="#777" stroke-width="1.500"/>

<!-- r5c3 bulb -->
<path class="l" d="M40 322h20M40 360h20M40 398h20M40 435h20"/>
<circle cx="127" cy="345" r="43" fill="#1a66ad"/><path d="M84 345A43 43 0 0 1 127 302V345Z" fill="#1c4680"/>
<polygon points="105,375 149,375 148,415 106,415" fill="#1a66ad"/>
<rect x="107" y="410" width="40" height="26" rx="5" fill="#1e6d8e"/><path d="M115 436a12 8 0 0 0 24 0z" fill="#1e6d8e"/>
<path d="M100 330H150M100 357H150M125 310V405M108 380H146" stroke="#cfe3f4" stroke-width="1.800"/>
<rect x="127" y="331" width="22" height="25" fill="#2a9fd6"/>

<!-- r5c4 -->
<use href="#dm" x="293" y="331" fill="#1c4680" transform="translate(0,0)"/><use href="#dm" x="415" y="331" fill="#1a66ad"/><use href="#dm" x="538" y="331" fill="#1f97cc"/>
<g fill="none" stroke="#e8f1f8" stroke-width="2.500"><circle cx="291" cy="325" r="9"/><circle cx="415" cy="325" r="8"/></g><rect x="530" y="317" width="17" height="14" fill="#e8f1f8"/>
<g font-size="6.500" fill="#fff" text-anchor="middle"><text x="292" y="345">请输入</text><text x="415" y="345">请输入</text><text x="538" y="345">请输入</text></g>
<path d="M293 364V376H405V400M415 364V400M538 364V376H425V400M395 376V400M435 376V400" fill="none" stroke="#a9c3d9" stroke-width="1.500"/>
<g fill="#fff" stroke="#cfcfcf" stroke-width="1.500"><rect x="238" y="400" width="112" height="47"/><rect x="362" y="400" width="111" height="47"/><rect x="484" y="400" width="112" height="47"/></g>
<text class="lb m" x="294" y="412">点击添加标题</text><text class="lc m" x="417" y="412">点击添加标题</text><text class="ly m" x="540" y="412">点击添加标题</text>
<path class="l" d="M242 421h104M242 430h104M258 439h70M366 421h103M366 430h103M382 439h70M488 421h104M488 430h104M504 439h70"/>

<!-- r5c5 -->
<path d="M656 297v24M656 328v24M656 360v23M656 391v24M656 422v24" stroke="#1c4680" stroke-width="2.500"/>
<text class="lb" x="662" y="304">点击添加标题</text><text class="lc" x="662" y="336">点击添加标题</text><text class="ly" x="662" y="367">点击添加标题</text><text class="lb" x="662" y="399">点击添加标题</text><text class="lc" x="662" y="430">点击添加标题</text>
<path class="l" d="M662 311h103M662 320h70M662 343h103M662 351h70M662 374h103M662 382h70M662 406h103M662 414h70M662 437h103M662 445h70" style="stroke-width:2"/>
<rect x="783" y="298" width="229" height="148" fill="#fcfcfc" stroke="#f0f0f0"/>
<text x="793" y="312" font-size="6" font-weight="700" fill="#555">CHART TITLE</text>
<path d="M805 350L817 405L840 418L858 385L890 376L925 352L960 370L985 348L997 358V430H805Z" fill="#1c4680"/>
<path d="M805 412L820 420L838 425L860 392L890 392L925 372L960 385L985 375L997 378V430H805Z" fill="#1a7cc8"/>
<path d="M805 425L840 428L860 404L895 408L925 400L960 402L985 398L997 400V430H805Z" fill="#1c4680"/>
<path d="M800 433H998" stroke="#ddd" stroke-width="1.500"/>

<!-- r6c3 right -->
<rect x="0" y="570" width="45" height="47" fill="#1f97cc"/><rect x="0" y="617" width="45" height="75" fill="#1c4680"/>
<path d="M15 656h15v10q0 6 -7.500 6t-7.500-6z" fill="#fff"/><rect x="21" y="672" width="3" height="8" fill="#fff"/><rect x="15" y="680" width="15" height="3" fill="#fff"/>
<rect x="8" y="587" width="14" height="12" fill="#fff" opacity=".85"/>
<rect x="45" y="568" width="130" height="87" fill="#cfd2d4"/><rect x="72" y="595" width="60" height="40" fill="#f0f0f0"/><rect x="100" y="575" width="40" height="30" fill="#8d9297"/><rect x="45" y="640" width="130" height="15" fill="#a3a7aa"/>

<!-- r6c4 -->
<circle cx="302" cy="607" r="62" fill="none" stroke="#d5d5d5" stroke-width="9" stroke-dasharray="7 6"/>
<g fill="none"><circle cx="302" cy="607" r="45" stroke="#1c4680" stroke-width="4"/><circle cx="302" cy="607" r="34" stroke="#1a66ad" stroke-width="3"/><circle cx="302" cy="607" r="22" stroke="#1c4680" stroke-width="4"/><circle cx="302" cy="607" r="12" stroke="#bbb" stroke-width="1.500"/></g>
<circle cx="302" cy="607" r="4" fill="#c0524a"/>
<ellipse cx="250" cy="555" rx="12" ry="10" fill="#1c4680"/>
<rect x="391" y="541" width="14" height="14" fill="#1c4680"/><circle cx="398" cy="587" r="8" fill="none" stroke="#1a66ad" stroke-width="2.500"/><rect x="391" y="619" width="14" height="14" fill="#1f97cc"/><rect x="390" y="657" width="15" height="15" fill="#56698c"/>
<text class="lb" x="413" y="544">点击添加标题</text><text class="lc" x="413" y="582">点击添加标题</text><text class="ly" x="413" y="620">点击添加标题</text><text class="lb" x="413" y="658">点击添加标题</text>
<path class="l" d="M413 552h180M413 560h180M413 569h60M413 590h180M413 598h180M413 607h60M413 628h180M413 636h180M413 645h60M413 666h180M413 674h60" style="stroke-width:2"/>

<!-- r6c5 -->
<polygon points="759,607 798,649 759,690 776,649" fill="#1c4680"/><polygon points="800,590 838,631 800,672 817,631" fill="#1a66ad"/><polygon points="838,567 878,608 838,650 855,608" fill="#1f97cc"/><polygon points="878,543 918,584 878,625 895,584" fill="#1c4680"/>
<g font-size="17" font-weight="700" text-anchor="middle"><text x="765" y="654" fill="#1c4680">A</text><text x="802" y="634" fill="#1a66ad">B</text><text x="841" y="614" fill="#1f97cc">C</text><text x="882" y="590" fill="#1c4680">D</text></g>
<text class="lc e" x="805" y="560">点击添加标题</text><path class="l" d="M722 567h83M722 576h83M745 585h60"/>
<text class="lb e" x="745" y="645">点击添加标题</text><path class="l" d="M660 652h85M660 661h85M685 670h60"/>
<text class="lb" x="920" y="544">点击添加标题</text><path class="l" d="M920 552h90M920 561h90M920 570h40"/>
<text class="ly" x="852" y="655">点击添加标题</text><path class="l" d="M852 663h88M852 672h88M852 681h40"/>
</g>

<!-- BOTTOM LEFT: rows 7-8 -->
<g transform="translate(0,864) scale(.33333)">
<!-- r7c1 -->
<polygon points="212,78 227,120 270,135 227,150 212,192 197,150 154,135 197,120" fill="#c8c8cb"/>
<polygon points="170,95 208,100 212,135" fill="#1c4680"/><polygon points="170,95 185,132 212,135" fill="#1a66ad"/>
<polygon points="253,95 216,100 212,135" fill="#1a66ad"/><polygon points="253,95 240,130 212,135" fill="#2aa1da"/>
<polygon points="170,176 208,170 212,135" fill="#1a66ad"/><polygon points="170,176 185,138 212,135" fill="#1c4680"/>
<polygon points="253,176 216,170 212,135" fill="#1c4680"/><polygon points="253,176 240,140 212,135" fill="#1a66ad"/>
<text class="lb e" x="158" y="79">点击添加标题</text><text class="ly" x="265" y="79">点击添加标题</text><text class="lb e" x="158" y="172">点击添加标题</text><text class="lc" x="265" y="172">点击添加标题</text>
<path class="l" d="M35 87h123M35 96h123M85 105h73M265 87h125M265 96h125M265 105h73M35 180h123M35 189h123M85 198h73M265 180h125M265 189h125M265 198h73"/>

<!-- part four -->
<svg x="423" y="8" width="140" height="231"><rect width="140" height="231" fill="#1c4680"/><path d="M52 0V231" stroke="#6d8dbb" stroke-width="1.500"/><text class="o" transform="translate(9,6) rotate(90)" font-size="53" textLength="110" lengthAdjust="spacingAndGlyphs">PART</text><text class="o" transform="translate(74,72) rotate(90)" font-size="66" textLength="158" lengthAdjust="spacingAndGlyphs">FOUR</text></svg>
<circle cx="562" cy="125" r="20" fill="#1c4680" stroke="#fff" stroke-width="3"/><circle cx="562" cy="125" r="23" fill="none" stroke="#1c4680" stroke-width="1.500"/><path d="M553 117h18v15h-18z" fill="none" stroke="#dbe6f2" stroke-width="2"/>
<text class="n" x="618" y="140" textLength="175" lengthAdjust="spacingAndGlyphs">04</text>
<text class="st" x="704" y="130">未来规划</text>
<path class="l" d="M620 150h168M642 161h124" style="stroke-width:2"/>

<!-- r7c3 -->
<g fill="#dedede"><rect x="888" y="82" width="84" height="12"/><rect x="888" y="97" width="84" height="12"/><rect x="888" y="112" width="84" height="12"/><rect x="888" y="127" width="84" height="12"/><rect x="1010" y="82" width="82" height="12"/><rect x="1010" y="97" width="82" height="12"/><rect x="1010" y="112" width="82" height="12"/><rect x="1010" y="127" width="82" height="12"/></g>
<g fill="#1c4680"><rect x="888" y="82" width="72" height="12"/><rect x="888" y="97" width="45" height="12"/><rect x="888" y="112" width="25" height="12"/><rect x="888" y="127" width="55" height="12"/></g>
<g fill="#1a66ad"><rect x="1010" y="82" width="50" height="12"/><rect x="1010" y="97" width="60" height="12"/><rect x="1010" y="112" width="75" height="12"/><rect x="1010" y="127" width="40" height="12"/></g>
<text class="lb" x="870" y="172">点击添加标题</text><text class="lc" x="992" y="172">点击添加标题</text>
<path class="l" d="M870 180h105M870 189h105M870 198h40M992 180h105M992 189h105M992 198h40"/>

<!-- r8c1 -->
<g fill="none"><circle cx="87" cy="352" r="28" stroke="#c2c9d2" stroke-width="7"/><circle cx="212" cy="352" r="28" stroke="#c3d7ea" stroke-width="7"/><circle cx="337" cy="352" r="28" stroke="#c5e5f4" stroke-width="7"/>
<circle cx="87" cy="352" r="28" stroke="#1c4680" stroke-width="7" pathLength="100" stroke-dasharray="38 100" transform="rotate(-70 87 352)"/>
<circle cx="212" cy="352" r="28" stroke="#1a66ad" stroke-width="7" pathLength="100" stroke-dasharray="65 100" transform="rotate(-70 212 352)"/>
<circle cx="337" cy="352" r="28" stroke="#1f97cc" stroke-width="7" pathLength="100" stroke-dasharray="53 100" transform="rotate(-90 337 352)"/></g>
<g font-size="18" text-anchor="middle" font-weight="700"><text x="87" y="359" fill="#445">64</text><text x="212" y="359" fill="#335a85">86</text><text x="337" y="359" fill="#2a8fbc">53</text></g>
<path class="l" d="M33 417h105M33 426h105M70 435h35M158 417h105M158 426h105M195 435h35M283 417h105M283 426h105M320 435h35"/>

<!-- r8c2 -->
<text class="lc m" x="568" y="313">点击添加标题</text><text class="lb m" x="693" y="313">点击添加标题</text><text class="lb m" x="505" y="348">点击添加标题</text><text class="ly m" x="632" y="348">点击添加标题</text><text class="lc m" x="757" y="348">点击添加标题</text>
<path class="l" d="M520 320h96M520 329h96M645 320h96M645 329h96M457 356h96M457 365h96M472 374h66M584 356h96M584 365h96M600 374h66M710 356h96M710 365h96M725 374h66"/>
<path d="M507 382V408M570 335V408M632 382V408M695 335V408M760 382V408" stroke="#ddd" stroke-dasharray="2 3" stroke-width="1.500"/>
<g><circle cx="507" cy="420" r="9" fill="#1c4680"/><path d="M487 442q2 -15 20 -15t20 15z" fill="#1c4680"/><circle cx="570" cy="420" r="9" fill="#1a66ad"/><path d="M550 442q2 -15 20 -15t20 15z" fill="#1a66ad"/><circle cx="632" cy="420" r="9" fill="#1f97cc"/><path d="M612 442q2 -15 20 -15t20 15z" fill="#1f97cc"/><circle cx="695" cy="420" r="9" fill="#1c4680"/><path d="M675 442q2 -15 20 -15t20 15z" fill="#1c4680"/><circle cx="760" cy="420" r="9" fill="#1a66ad"/><path d="M740 442q2 -15 20 -15t20 15z" fill="#1a66ad"/></g>

<!-- r8c3 -->
<circle cx="928" cy="345" r="28" fill="none" stroke="#1c4680" stroke-width="7" pathLength="100" stroke-dasharray="70 100"/>
<text x="928" y="350" font-size="13" font-weight="700" fill="#333" text-anchor="middle">70%</text>
<circle cx="1050" cy="345" r="28" fill="none" stroke="#1a66ad" stroke-width="7" pathLength="100" stroke-dasharray="80 100" transform="rotate(-90 1050 345)"/>
<text x="1050" y="350" font-size="13" font-weight="700" fill="#333" text-anchor="middle">80%</text>
<rect x="890" y="387" width="75" height="14" fill="#1c4680"/><rect x="1010" y="387" width="75" height="14" fill="#1a66ad"/>
<text class="wt" x="928" y="397" style="font-size:7.500px">点击添加标题</text><text class="wt" x="1047" y="397" style="font-size:7.500px">点击添加标题</text>
<path class="l" d="M880 410h105M880 419h105M905 428h50M1000 410h105M1000 419h105M1025 428h50"/>
</g>

<!-- BOTTOM RIGHT -->
<g transform="translate(350,864) scale(.33333)">
<!-- r7c3 right -->
<g fill="#dedede"><rect x="83" y="82" width="80" height="12"/><rect x="83" y="97" width="80" height="12"/><rect x="83" y="112" width="80" height="12"/><rect x="83" y="127" width="80" height="12"/></g>
<g fill="#1f97cc"><rect x="83" y="82" width="60" height="12"/><rect x="83" y="97" width="47" height="12"/><rect x="83" y="112" width="67" height="12"/><rect x="83" y="127" width="47" height="12"/></g>
<text class="ly" x="65" y="172">点击添加标题</text><path class="l" d="M65 180h105M65 189h105M65 198h30"/>

<!-- r7c4 -->
<path d="M335 158Q345 110 370 97M444 97Q472 110 482 158M370 86Q407 82 444 86" fill="none" stroke="#e1e6ec" stroke-width="1.500"/>
<circle cx="335" cy="158" r="16" fill="#1c4680"/><circle cx="370" cy="97" r="16" fill="#1a66ad"/><circle cx="444" cy="97" r="16" fill="#1f97cc"/><circle cx="482" cy="158" r="16" fill="#1c4680"/>
<g font-size="13" font-weight="700" fill="#fff" text-anchor="middle"><text x="335" y="163">01</text><text x="370" y="102">02</text><text x="444" y="102">03</text><text x="482" y="163">04</text></g>
<circle cx="410" cy="175" r="9" fill="#11294d"/>
<path d="M392 238V205L365 210Q340 205 325 193L330 192Q345 198 366 199L392 187H428L454 199Q475 198 490 192L495 193Q480 205 455 210L428 205V238Z" fill="#11294d"/>
<path d="M410 188V225" stroke="#fff" stroke-width="2"/>
<text class="lc e" x="345" y="78">点击添加标题</text><text class="ly" x="474" y="78">点击添加标题</text><text class="lb e" x="314" y="151">点击添加标题</text><text class="lb" x="505" y="151">点击添加标题</text>
<path class="l" d="M258 85h87M258 94h87M275 103h70M474 85h91M474 94h91M474 103h60M240 159h74M240 168h74M240 177h74M260 186h54M505 159h85M505 168h85M505 177h85M505 186h50"/>

<!-- r7c5 -->
<g fill="#fff" stroke="#dbe5ee" stroke-width="1.500"><polygon points="725,65 970,65 985,85 970,105 725,105 710,85"/><polygon points="790,118 997,118 1012,138 997,158 790,158 775,138"/><polygon points="725,168 970,168 985,188 970,210 725,210 710,188"/></g>
<path class="l" d="M735 75h225M735 84h225M735 93h180M790 128h200M790 137h200M790 147h160M735 178h225M735 188h225M735 198h180" style="stroke-width:2"/>
<use href="#hf" x="683" y="107" fill="#1c4680"/><use href="#hf" x="736" y="137" fill="#1a66ad"/><use href="#hf" x="683" y="167" fill="#1f97cc"/>
<g font-size="8" fill="#fff" text-anchor="middle" font-weight="700"><text x="683" y="104">点击输</text><text x="683" y="116">入标题</text><text x="736" y="134">点击输</text><text x="736" y="146">入标题</text><text x="683" y="164">点击输</text><text x="683" y="176">入标题</text></g>

<!-- r8c3 right -->
<circle cx="118" cy="345" r="28" fill="none" stroke="#1f97cc" stroke-width="7" pathLength="100" stroke-dasharray="48 100" transform="rotate(-90 118 345)"/>
<text x="118" y="350" font-size="13" font-weight="700" fill="#333" text-anchor="middle">48%</text>
<rect x="81" y="387" width="75" height="14" fill="#1f97cc"/><text class="wt" x="118" y="397" style="font-size:7.500px">点击添加标题</text>
<path class="l" d="M62 410h110M62 419h110M90 428h50"/>

<!-- r8c4 -->
<path d="M240 315h22v16h-22zM330 335h28v16h-28zM422 356h25v16h-25zM513 377h25v16h-25z" fill="#c8cdd2"/>
<circle cx="285" cy="323" r="23" fill="#1c4680"/><circle cx="378" cy="343" r="21" fill="#1a66ad"/><circle cx="470" cy="364" r="21" fill="#1f97cc"/><circle cx="560" cy="385" r="21" fill="#1c4680"/>
<polygon points="255,315 270,309 270,337 255,331" fill="#1c4680"/><polygon points="350,335 365,328 365,358 350,351" fill="#1a66ad"/><polygon points="442,356 457,350 457,378 442,372" fill="#1f97cc"/>
<text class="lb" x="240" y="356">点击添加标题</text><text class="lc" x="330" y="380">点击添加标题</text><text class="lb" x="513" y="423">点击添加标题</text>
<path class="l" d="M240 363h85M240 372h85M330 388h85M330 397h85M420 410h85M420 419h85M513 431h80M513 440h80"/>

<!-- last slide -->
<rect x="627" y="347" width="412" height="127" fill="#1c4680"/>
<polygon points="627,260 640,268 627,276" fill="#1c4680"/>
<text x="643" y="275" font-size="17" font-weight="700" fill="#1c4680" textLength="49" lengthAdjust="spacingAndGlyphs">LOGO</text>
<circle cx="1006" cy="263" r="2" fill="#666"/><circle cx="1015" cy="263" r="2" fill="#777"/><circle cx="1024" cy="263" r="2" fill="#999"/>
<rect x="678" y="288" width="337" height="152" fill="#fff" stroke="#d5d8dc" stroke-width="1.500"/>
<rect x="693" y="301" width="100" height="129" fill="#cfd8de"/><rect x="693" y="335" width="63" height="40" fill="#3a4449"/><rect x="693" y="400" width="100" height="30" fill="#5a5c5a"/><rect x="693" y="375" width="70" height="25" fill="#c0c4c8"/>
<text x="813" y="341" font-size="22.500" font-weight="700" fill="#1c4680" textLength="187">汇报完毕 感谢聆听</text>
<text x="813" y="365" font-size="15" fill="#666" textLength="187" lengthAdjust="spacingAndGlyphs">PRESENTATION SUB TITLE</text>
</g>
</g>

<!-- WATERMARKS -->
<g>
<text x="22" y="1004" font-size="23" font-weight="700" fill="#fff" stroke="#777" stroke-width="1.100" textLength="70" paint-order="stroke" style="font-family:'Noto Sans CJK SC',sans-serif">昵图网</text>
<text x="98" y="1004" font-size="22" font-weight="700" fill="#fff" stroke="#777" stroke-width="1.100" textLength="142" lengthAdjust="spacingAndGlyphs" paint-order="stroke">www.nipic.com</text>
<rect x="424" y="984" width="260" height="25" rx="2" fill="#3f3f3f" opacity=".68"/>
<text x="433" y="1002.500" font-size="15" fill="#fff" fill-opacity=".88" textLength="240" lengthAdjust="spacingAndGlyphs">ID:32546661 NO:20250830001426913103</text>
</g>
</svg>
</body></html>
